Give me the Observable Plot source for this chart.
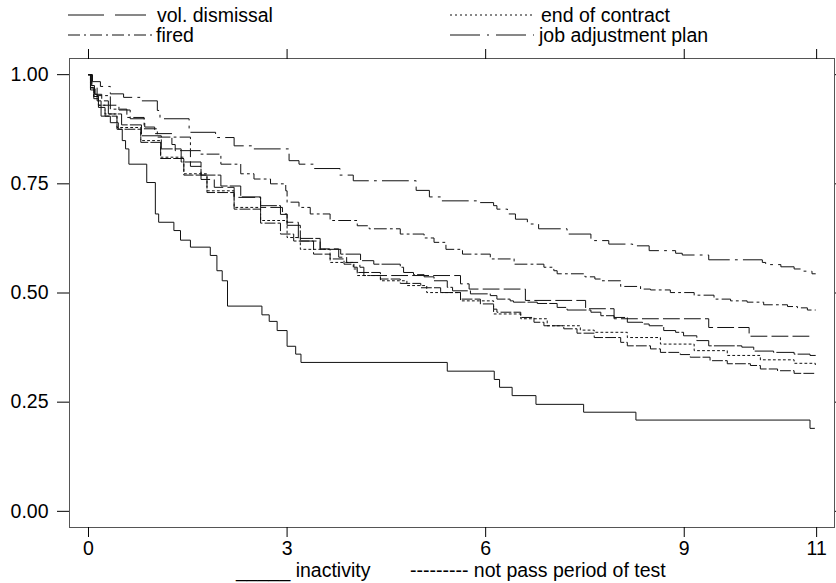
<!DOCTYPE html>
<html>
<head>
<meta charset="utf-8">
<script src="https://cdn.jsdelivr.net/npm/d3@7"></script>
<script src="https://cdn.jsdelivr.net/npm/@observablehq/plot@0.6"></script>
<style>
  html, body { margin: 0; padding: 0; background: #fff; }
  body { font-family: "Liberation Sans", Arial, sans-serif; color: #000; }
  #page { position: relative; width: 836px; height: 583px; overflow: hidden; }
  #chart { position: absolute; left: 0; top: 46px; }
  .lg { position: absolute; font-size: 19.5px; line-height: 1; white-space: pre; }
  .sw { position: absolute; }
</style>
</head>
<body>
<div id="page">
  <div id="chart"></div>
  <div id="legendTop"></div>
  <div id="legendBottom"></div>
</div>
<script>
// ---------- data (time in units, survival probability) ----------
const xTicks = [0, 3, 6, 9, 11];
const yTicks = [0, 0.25, 0.5, 0.75, 1];

const inactivityT = [0, 0.04, 0.09, 0.13, 0.19, 0.33, 0.45, 0.51, 0.56, 0.61, 0.88, 1.01, 1.06, 1.29, 1.39, 1.54, 1.84, 1.94, 2.02, 2.1, 2.62, 2.73, 2.85, 3.0, 3.13, 3.21, 5.42, 6.13, 6.21, 6.40, 6.76, 7.48, 8.27, 10.9, 10.97];
const inactivityS = [1, 0.975, 0.955, 0.94, 0.905, 0.89, 0.875, 0.849, 0.83, 0.795, 0.753, 0.681, 0.662, 0.643, 0.621, 0.605, 0.586, 0.551, 0.528, 0.47, 0.45, 0.435, 0.414, 0.378, 0.36, 0.341, 0.321, 0.302, 0.284, 0.265, 0.245, 0.227, 0.209, 0.19, 0.19];

const jobAdjT = [0, 0.06, 0.18, 0.33, 0.53, 0.78, 1.04, 1.08, 1.52, 1.92, 2.2, 2.5, 3.03, 3.18, 3.4, 3.8, 4.0, 4.95, 5.15, 5.32, 5.92, 6.12, 6.17, 6.33, 6.45, 6.63, 6.8, 7.23, 7.59, 7.86, 8.22, 8.47, 8.87, 8.97, 9.37, 10.18, 10.23, 10.46, 10.66, 10.76, 10.93, 10.98];
const jobAdjS = [1, 0.984, 0.973, 0.956, 0.948, 0.94, 0.918, 0.899, 0.868, 0.856, 0.837, 0.83, 0.803, 0.795, 0.785, 0.77, 0.757, 0.735, 0.72, 0.711, 0.707, 0.70, 0.692, 0.681, 0.669, 0.658, 0.647, 0.635, 0.62, 0.612, 0.608, 0.597, 0.591, 0.587, 0.576, 0.57, 0.565, 0.56, 0.555, 0.55, 0.544, 0.544];

const firedT = [0, 0.05, 0.13, 0.33, 0.58, 0.84, 1.04, 1.54, 1.69, 2.0, 2.3, 2.5, 2.75, 2.98, 3.0, 3.18, 3.35, 3.65, 4.06, 4.24, 4.71, 5.07, 5.22, 5.4, 5.65, 6.07, 6.43, 6.88, 7.03, 7.08, 7.5, 7.65, 7.74, 8.04, 8.34, 8.49, 8.79, 9.15, 9.45, 9.7, 9.95, 10.2, 10.56, 10.71, 10.86, 10.98];
const firedS = [1, 0.97, 0.952, 0.921, 0.902, 0.876, 0.857, 0.826, 0.818, 0.795, 0.773, 0.761, 0.75, 0.734, 0.708, 0.696, 0.681, 0.666, 0.654, 0.647, 0.635, 0.626, 0.616, 0.60, 0.589, 0.578, 0.566, 0.559, 0.551, 0.544, 0.537, 0.532, 0.528, 0.515, 0.509, 0.507, 0.501, 0.495, 0.486, 0.482, 0.479, 0.473, 0.469, 0.466, 0.461, 0.461];

const volT = [0, 0.05, 0.1, 0.2, 0.3, 0.46, 0.63, 0.85, 1.0, 1.26, 1.31, 1.54, 1.7, 1.9, 2.2, 2.6, 2.93, 3.0, 3.17, 3.5, 3.78, 3.9, 4.1, 4.16, 5.62, 5.75, 6.6, 7.51, 7.94, 9.37, 9.98, 10.91];
const volS = [1, 0.975, 0.955, 0.94, 0.93, 0.919, 0.899, 0.88, 0.865, 0.84, 0.826, 0.79, 0.76, 0.742, 0.719, 0.696, 0.681, 0.662, 0.619, 0.601, 0.582, 0.57, 0.559, 0.54, 0.521, 0.509, 0.483, 0.464, 0.441, 0.421, 0.401, 0.401];

const otherT = [0, 0.03, 0.08, 0.15, 0.3, 0.5, 0.8, 1.1, 1.4, 1.7, 2.0, 2.3, 2.6, 2.9, 3.0, 3.2, 3.5, 3.81, 4.11, 4.31, 4.71, 4.76, 4.91, 5.07, 5.22, 5.42, 5.5, 5.77, 6.07, 6.17, 6.37, 6.42, 6.78, 7.08, 7.23, 7.59, 7.74, 7.94, 8.14, 8.37, 8.47, 8.69, 8.87, 8.99, 9.19, 9.37, 9.87, 10.05, 10.35, 10.66, 10.9, 10.98];
const otherS = [1, 0.97, 0.95, 0.93, 0.91, 0.885, 0.86, 0.83, 0.80, 0.77, 0.745, 0.72, 0.70, 0.68, 0.655, 0.625, 0.60, 0.589, 0.574, 0.566, 0.559, 0.547, 0.542, 0.537, 0.528, 0.513, 0.505, 0.498, 0.494, 0.486, 0.482, 0.479, 0.476, 0.467, 0.461, 0.456, 0.448, 0.444, 0.433, 0.429, 0.425, 0.414, 0.41, 0.402, 0.391, 0.379, 0.376, 0.367, 0.364, 0.36, 0.357, 0.357];

const contractT = [0, 0.03, 0.08, 0.15, 0.25, 0.43, 0.79, 1.09, 1.44, 1.79, 2.2, 2.6, 3.0, 3.2, 3.65, 4.0, 4.06, 4.41, 4.81, 5.11, 5.62, 6.12, 6.53, 6.93, 7.43, 7.64, 8.14, 8.64, 9.15, 9.65, 10.15, 10.66, 10.98];
const contractS = [1, 0.97, 0.95, 0.93, 0.91, 0.879, 0.849, 0.811, 0.773, 0.734, 0.696, 0.666, 0.627, 0.60, 0.57, 0.555, 0.54, 0.528, 0.517, 0.501, 0.482, 0.452, 0.441, 0.425, 0.415, 0.41, 0.398, 0.383, 0.368, 0.357, 0.347, 0.339, 0.336];

const notPassT = [0, 0.03, 0.08, 0.15, 0.25, 0.43, 0.79, 1.09, 1.44, 1.79, 2.2, 2.6, 2.9, 3.1, 3.4, 3.65, 3.86, 4.01, 4.06, 4.41, 4.71, 5.02, 5.32, 5.62, 5.92, 6.12, 6.17, 6.53, 6.73, 6.88, 7.18, 7.38, 7.64, 8.04, 8.14, 8.49, 8.64, 8.94, 9.09, 9.39, 9.65, 10.0, 10.15, 10.41, 10.66, 10.98];
const notPassS = [1, 0.965, 0.945, 0.925, 0.905, 0.875, 0.845, 0.808, 0.77, 0.73, 0.692, 0.66, 0.635, 0.619, 0.589, 0.578, 0.566, 0.559, 0.547, 0.532, 0.522, 0.512, 0.501, 0.486, 0.475, 0.463, 0.456, 0.444, 0.433, 0.425, 0.418, 0.408, 0.398, 0.387, 0.379, 0.372, 0.364, 0.359, 0.353, 0.345, 0.338, 0.334, 0.326, 0.322, 0.316, 0.313];

const legendTopLabels = ["vol. dismissal", "end of contract", "fired", "job adjustment plan"];
const legendBottomLabels = ["_____ inactivity", "--------- not pass period of test"];

// ---------- build ----------
const rows = (T, S) => T.map((t, i) => ({t, s: S[i]}));
const series = [
  {data: rows(inactivityT, inactivityS), dash: null},
  {data: rows(jobAdjT, jobAdjS), dash: "26,6,2,6"},
  {data: rows(firedT, firedS), dash: "12,4,2,4"},
  {data: rows(volT, volS), dash: "16,5"},
  {data: rows(otherT, otherS), dash: "20,3"},
  {data: rows(contractT, contractS), dash: "2,3"},
  {data: rows(notPassT, notPassS), dash: "10,3"}
];

const chart = Plot.plot({
  width: 836,
  height: 514,
  marginTop: 12,
  marginBottom: 33,
  marginLeft: 69,
  marginRight: 2,
  x: {domain: [-0.287, 11.27]},
  y: {domain: [-0.037, 1.037]},
  style: {fontSize: "19.5px", fontFamily: "'Liberation Sans', Arial, sans-serif", color: "#000", background: "#fff"},
  marks: [
    Plot.frame({stroke: "#555", strokeWidth: 1}),
    Plot.axisX({ticks: xTicks, tickSize: 10, tickPadding: 4, label: null, tickFormat: d => String(d)}),
    Plot.axisX({anchor: "top", ticks: xTicks, tickSize: 10, label: null, tickFormat: () => ""}),
    Plot.axisY({ticks: yTicks, tickSize: 12, tickPadding: 9, label: null, tickFormat: d3.format(".2f")}),
    Plot.axisY({anchor: "right", ticks: yTicks, tickSize: 4, label: null, tickFormat: () => ""}),
    ...series.map(s => Plot.line(s.data, {
      x: "t", y: "s", curve: "step-after",
      stroke: "#111", strokeWidth: 1,
      strokeDasharray: s.dash || undefined
    }))
  ]
});
document.getElementById("chart").appendChild(chart);

// ---------- legends ----------
const legTop = document.getElementById("legendTop");
const topItems = [
  {label: legendTopLabels[0], sx: 68, ex: 146, tx: 157, y: 15, dash: "36,11"},
  {label: legendTopLabels[1], sx: 450, ex: 532, tx: 541, y: 15, dash: "2,3"},
  {label: legendTopLabels[2], sx: 68, ex: 155, tx: 156, y: 35, dash: "12,4,2,4"},
  {label: legendTopLabels[3], sx: 450, ex: 534, tx: 539, y: 35, dash: "30,7,2,7"}
];
topItems.forEach(it => {
  const ns = "http://www.w3.org/2000/svg";
  const svg = document.createElementNS(ns, "svg");
  svg.setAttribute("class", "sw");
  svg.setAttribute("width", it.ex - it.sx);
  svg.setAttribute("height", 4);
  svg.style.left = it.sx + "px";
  svg.style.top = (it.y - 2) + "px";
  const ln = document.createElementNS(ns, "line");
  ln.setAttribute("x1", 0); ln.setAttribute("x2", it.ex - it.sx);
  ln.setAttribute("y1", 2); ln.setAttribute("y2", 2);
  ln.setAttribute("stroke", "#111"); ln.setAttribute("stroke-width", 1);
  ln.setAttribute("stroke-dasharray", it.dash);
  svg.appendChild(ln);
  legTop.appendChild(svg);
  const d = document.createElement("div");
  d.className = "lg";
  d.textContent = it.label;
  d.style.left = it.tx + "px";
  d.style.top = (it.y - 9) + "px";
  legTop.appendChild(d);
});

const legBottom = document.getElementById("legendBottom");
[{label: legendBottomLabels[0], x: 236}, {label: legendBottomLabels[1], x: 410}].forEach(it => {
  const d = document.createElement("div");
  d.className = "lg";
  d.textContent = it.label;
  d.style.left = it.x + "px";
  d.style.top = "561px";
  legBottom.appendChild(d);
});
</script>
</body>
</html>
